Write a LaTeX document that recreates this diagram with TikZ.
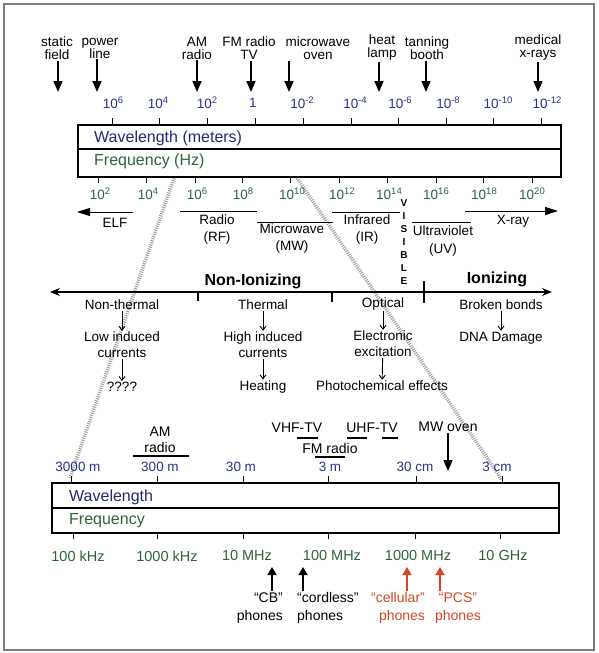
\documentclass[tikz,border=0pt]{standalone}
\usepackage{fontspec}
\setmainfont{Liberation Sans}
\usetikzlibrary{arrows.meta}
\definecolor{wlblue}{RGB}{45, 50, 140}
\definecolor{fqgreen}{RGB}{45, 100, 60}
\definecolor{phred}{RGB}{210, 70, 35}
\definecolor{framegray}{RGB}{125, 125, 125}
\newcommand{\expo}[1]{\raisebox{5pt}{\fontsize{9.5}{9.5}\selectfont #1}}

\begin{document}
\begin{tikzpicture}[x=1pt, y=-1pt,
      lbl/.style={font=\fontsize{13.5}{13}\selectfont, align=center, inner sep=1pt},
      mid/.style={font=\fontsize{13.5}{16}\selectfont, align=center, inner sep=1pt},
      low/.style={font=\fontsize{14}{16}\selectfont, align=center, inner sep=1pt},
      num/.style={font=\fontsize{13.5}{13}\selectfont, inner sep=1pt},
      boxtxt/.style={font=\fontsize{16}{16}\selectfont, anchor=west, inner sep=0pt},
      dnarr/.style={-{Triangle[width=9pt, length=11pt]}, line width=1.6pt},
      uparr/.style={-{Triangle[width=9pt, length=8pt]}, line width=1.8pt},
      smarr/.style={-{Straight Barb[width=6pt, length=4pt]}, line width=0.9pt},
      bandarr/.style={-{Triangle[width=8pt, length=13pt]}, line width=1pt},
      zoomln/.style={gray!75, line width=3.5pt, dash pattern=on 1pt off 1.2pt}]
  \useasboundingbox (0,0) rectangle (598,653);
  \draw[framegray, line width=1.5pt] (4,4) rectangle (594,650);

  % zoom lines (behind everything)
  \coordinate (zl1) at (174,178); \coordinate (zl2) at (70,478);
  \coordinate (zr1) at (297,178); \coordinate (zr2) at (502,480);
  \draw[zoomln] (zl1) -- (zl2);
  \draw[zoomln] (zr1) -- (zr2);

  % sources along the top
  \node[lbl] (static) at (57,48)  {static\\field};
  \node[lbl] (power)  at (100,48) {power\\line};
  \node[lbl] (amr)    at (197,48) {AM\\radio};
  \node[lbl] (fmtv)   at (249,48) {FM radio\\TV};
  \node[lbl] (mwo)    at (318,48) {microwave\\oven};
  \node[lbl] (heat)   at (382,48) {heat\\lamp};
  \node[lbl] (tan)    at (427,48) {tanning\\booth};
  \node[lbl] (xmed)   at (538,48) {medical\\x-rays};
  \foreach \n/\x in {static/58, power/97, amr/197, fmtv/251, mwo/289, heat/379, tan/426, xmed/538} {
    \coordinate (t\n) at (\x,92);
    \draw[dnarr] (\n.south -| t\n) -- (t\n);
  }

  % wavelength scale
  \foreach \lx/\tx/\e in {113/112/6, 158/159/4, 207/207/2, 302/303/-2, 355/351/-4,
                          400/398/-6, 448/446/-8, 498/493/-10, 547/541/-12} {
    \node[num, text=wlblue] (w\e) at (\lx,103) {10\expo{\e}};
    \draw[line width=1pt] (\tx,118) -- (\tx,125);
  }
  \node[num, text=wlblue] (w0) at (253,103) {1};
  \draw[line width=1pt] (255,118) -- (255,125);

  % top band box
  \draw[line width=1.8pt] (78,125) rectangle (561,177);
  \draw[line width=1.2pt] (78,149) -- (561,149);
  \node[boxtxt, text=wlblue!80!black] (wlen) at (94,138) {Wavelength (meters)};
  \node[boxtxt, text=fqgreen] (freq) at (94,161) {Frequency (Hz)};

  % frequency scale
  \foreach \lx/\tx/\e in {100/98/2, 148/146/4, 197/195/6, 243/242/8, 292/290/10,
                          342/339/12, 389/387/14, 436/436/16, 484/483/18, 532/532/20} {
    \draw[line width=1pt] (\tx,177) -- (\tx,183);
    \node[num, text=fqgreen] (f\e) at (\lx,194) {10\expo{\e}};
  }

  % bands
  \draw[bandarr] (133,212) -- (77,212);
  \node[lbl] (elf) at (115,223) {ELF};
  \draw[line width=1pt] (180,211) -- (257,211);
  \node[mid, font=\fontsize{13.5}{17}\selectfont] (rf) at (217,230) {Radio\\(RF)};
  \draw[line width=1pt] (257,222) -- (333,222);
  \node[mid, font=\fontsize{13.5}{17}\selectfont] (mw) at (292,239) {Microwave\\(MW)};
  \draw[line width=1pt] (332,212) -- (400,212);
  \node[mid, font=\fontsize{13.5}{17}\selectfont] (ir) at (367,230) {Infrared\\(IR)};
  \node[font=\fontsize{10}{12.9}\selectfont\bfseries, align=center, inner sep=0pt] (vis) at (404,242) {V\\I\\S\\I\\B\\L\\E};
  \draw[line width=1pt] (412,222) -- (471,222);
  \node[mid, font=\fontsize{13.5}{18}\selectfont] (uv) at (443,241) {Ultraviolet\\(UV)};
  \draw[bandarr] (465,211) -- (558,211);
  \node[lbl] (xray) at (513,221) {X-ray};

  % ionizing axis
  \draw[{Stealth[width=8pt, length=10pt]}-{Stealth[width=8pt, length=10pt]}, line width=1.6pt] (50,292) -- (552,292);
  \draw[line width=1.6pt] (198,292) -- (198,301);
  \draw[line width=1.6pt] (332,292) -- (332,302);
  \draw[line width=1.6pt] (424,281) -- (424,303);
  \node[font=\fontsize{16}{16}\selectfont\bfseries, inner sep=1pt] (nonion) at (253,281) {Non-Ionizing};
  \node[font=\fontsize{16}{16}\selectfont\bfseries, inner sep=1pt] (ion) at (497,279) {Ionizing};

  % effects
  \node[mid] (nt1) at (122,305) {Non-thermal};
  \node[mid] (nt2) at (122,345) {Low induced\\currents};
  \node[mid] (nt3) at (122,387) {????};
  \node[mid] (th1) at (263,305) {Thermal};
  \node[mid] (th2) at (263,345) {High induced\\currents};
  \node[mid] (th3) at (263,387) {Heating};
  \node[mid] (op1) at (383,304) {Optical};
  \node[mid] (op2) at (383,344) {Electronic\\excitation};
  \node[mid] (op3) at (382,386) {Photochemical effects};
  \node[mid] (io1) at (501,305) {Broken bonds};
  \node[mid] (io2) at (501,338) {DNA Damage};
  \foreach \a/\b in {nt1/nt2, nt2/nt3, th1/th2, th2/th3, op1/op2, op2/op3, io1/io2}
    \draw[smarr] (\a) -- (\b);

  % lower band detail
  \node[low] (amr2) at (160,440) {AM\\radio};
  \draw[line width=1.5pt] (133,456) -- (189,456);
  \node[low] (vhf) at (297,428) {VHF-TV};
  \draw[line width=1.5pt] (297,438) -- (318,438);
  \node[low] (uhf) at (372,428) {UHF-TV};
  \draw[line width=1.5pt] (347,438) -- (367,438);
  \draw[line width=1.5pt] (382,438) -- (398,438);
  \node[low] (fm) at (330,448) {FM radio};
  \draw[line width=1.5pt] (315,457) -- (345,457);
  \node[low] (oven) at (448,427) {MW oven};
  \coordinate (toven) at (448,471);
  \draw[dnarr] (oven.south) -- (toven);

  \foreach \lx/\tx/\t in {78/71/3000 m, 160/157/300 m, 241/243/30 m,
                          330/328/3 m, 415/416/30 cm, 497/502/3 cm} {
    \node[num, font=\fontsize{13.5}{14}\selectfont, text=wlblue] at (\lx,467) {\t};
    \draw[line width=1pt] (\tx,476) -- (\tx,483);
  }

  \draw[line width=1.8pt] (52,483) rectangle (559,533);
  \draw[line width=1.2pt] (52,508) -- (559,508);
  \node[boxtxt, text=wlblue!80!black] (wlen2) at (69,497) {Wavelength};
  \node[boxtxt, text=fqgreen] (freq2) at (69,521) {Frequency};

  \foreach \lx/\tx/\t in {78/73/100 kHz, 167/157/1000 kHz, 247/243/10 MHz,
                          332/328/100 MHz, 418/415/1000 MHz, 503/500/10 GHz} {
    \draw[line width=1pt] (\tx,533) -- (\tx,539);
    \node[num, font=\fontsize{14.5}{15}\selectfont, text=fqgreen] at (\lx,556) {\t};
  }

  % phones
  \node[low, font=\fontsize{14}{18}\selectfont, align=right, anchor=east] (cb) at (284,608) {“CB”\\phones};
  \node[low, font=\fontsize{14}{18}\selectfont, align=left, anchor=west] (cord) at (296,608) {“cordless”\\phones};
  \node[low, font=\fontsize{14}{18}\selectfont, text=phred] (cell) at (398,608) {“cellular”\\\hspace{8pt}phones};
  \node[low, font=\fontsize{14}{18}\selectfont, text=phred] (pcs) at (458,608) {“PCS”\\phones};
  \coordinate (tcb) at (272,567);   \coordinate (tcord) at (303,567);
  \coordinate (tcell) at (407,567); \coordinate (tpcs) at (440,567);
  \draw[uparr] (cb.north -| tcb) -- (tcb);
  \draw[uparr] (cord.north -| tcord) -- (tcord);
  \draw[uparr, phred] (cell.north -| tcell) -- (tcell);
  \draw[uparr, phred] (pcs.north -| tpcs) -- (tpcs);
\end{tikzpicture}
\end{document}
